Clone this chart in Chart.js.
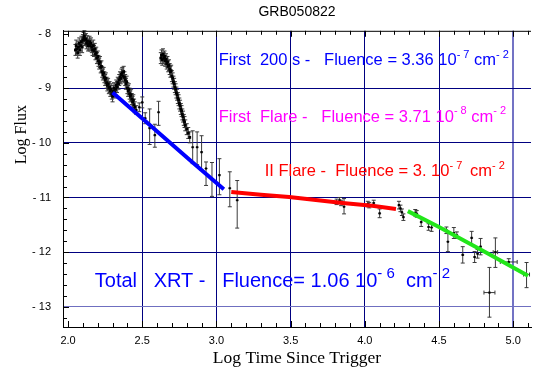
<!DOCTYPE html>
<html>
<head>
<meta charset="utf-8">
<script src="https://cdn.jsdelivr.net/npm/chart.js@4.4.1/dist/chart.umd.min.js"></script>
<style>
html, body { margin: 0; padding: 0; background: #fff; }
#wrap { width: 541px; height: 370px; }
</style>
</head>
<body>
<div id="wrap"><canvas id="grb"></canvas></div>
<script>
const X_TICKS = [2, 2.5, 3, 3.5, 4, 4.5, 5];
const Y_TICKS = [-8, -9, -10, -11, -12, -13];
const X_RANGE = [1.966, 5.12];
const Y_RANGE = [-13.37, -7.95];

// dense early light curve (first 200 s and the two flares)
const DENSE_T = [
    2.05, 2.055, 2.06, 2.065, 2.07, 2.075, 2.08, 2.085, 2.09, 2.095, 2.10, 2.105, 2.11, 2.115, 2.12, 2.125,
    2.13, 2.135, 2.14, 2.145, 2.15, 2.155, 2.16, 2.165, 2.17, 2.175, 2.18, 2.185, 2.19, 2.195, 2.20, 2.205,
    2.21, 2.215, 2.22, 2.225, 2.23, 2.235, 2.24, 2.245, 2.25, 2.255, 2.26, 2.265, 2.27, 2.275, 2.28, 2.285,
    2.29, 2.295, 2.30, 2.305, 2.31, 2.315, 2.32, 2.325, 2.33, 2.335, 2.34, 2.345, 2.35, 2.355, 2.36, 2.365,
    2.37, 2.375, 2.38, 2.385, 2.39, 2.395, 2.40, 2.405, 2.41, 2.415, 2.42, 2.425, 2.43, 2.435, 2.44, 2.445, 2.45,
    2.625, 2.63, 2.635, 2.64, 2.645, 2.65, 2.655, 2.66, 2.665, 2.67, 2.675, 2.68, 2.685, 2.69, 2.695, 2.70,
    2.705, 2.71, 2.715, 2.72, 2.725, 2.73, 2.735, 2.74, 2.745, 2.75, 2.755, 2.76, 2.765, 2.77, 2.775, 2.78,
    2.785, 2.79, 2.80, 2.81, 2.82
];
const DENSE_F = [
    -8.30, -8.22, -8.28, -8.35, -8.25, -8.18, -8.30, -8.22, -8.15, -8.25, -8.12, -8.08, -8.05, -8.12, -8.10, -8.18,
    -8.14, -8.22, -8.20, -8.15, -8.22, -8.18, -8.25, -8.30, -8.22, -8.32, -8.28, -8.38, -8.35, -8.45, -8.42, -8.50,
    -8.55, -8.52, -8.62, -8.60, -8.70, -8.75, -8.72, -8.80, -8.85, -8.82, -8.90, -8.95, -8.92, -9.00, -8.98, -9.05,
    -9.02, -9.10, -9.15, -9.05, -9.00, -9.08, -9.02, -8.95, -8.98, -8.90, -8.92, -8.85, -8.80, -8.82, -8.75, -8.72,
    -8.78, -8.70, -8.80, -8.85, -8.92, -8.88, -9.00, -9.05, -9.02, -9.10, -9.15, -9.12, -9.20, -9.25, -9.22, -9.30, -9.35,
    -8.45, -8.40, -8.48, -8.38, -8.45, -8.42, -8.50, -8.47, -8.55, -8.52, -8.60, -8.58, -8.65, -8.70, -8.68, -8.78,
    -8.82, -8.88, -8.92, -8.98, -9.02, -9.08, -9.12, -9.18, -9.22, -9.28, -9.32, -9.38, -9.42, -9.48, -9.52, -9.58,
    -9.62, -9.68, -9.75, -9.82, -9.90
];
const DENSE_ERR = 0.1;

// sparser points with error bars
const PTS_T = [2.46, 2.48, 2.50, 2.52, 2.55, 2.585, 2.61, 2.84, 2.87, 2.90, 2.93, 2.97, 3.02, 3.09, 3.14,
    3.81, 3.83, 3.84, 3.86, 4.02, 4.03, 4.06, 4.10, 4.23, 4.24, 4.25, 4.26, 4.34, 4.35, 4.38, 4.43, 4.45,
    4.55, 4.56, 4.60, 4.62, 4.66, 4.72, 4.74, 4.76, 4.78, 4.88, 4.84, 4.97, 5.09];
const PTS_F = [-9.40, -9.35, -9.26, -9.55, -9.73, -9.86, -9.44, -10.08, -10.08, -10.17, -10.47, -10.68, -10.59, -10.83, -11.05,
    -11.08, -11.05, -11.10, -11.17, -11.12, -11.14, -11.10, -11.29, -11.14, -11.20, -11.27, -11.36, -11.28, -11.30, -11.45, -11.54, -11.55,
    -11.60, -11.81, -11.65, -11.69, -12.05, -11.74, -12.09, -12.03, -11.90, -12.00, -12.74, -12.18, -12.41];
const ERR_UP = [0.08, 0.08, 0.10, 0.10, 0.35, 0.20, 0.20, 0.30, 0.28, 0.30, 0.12, 0.32, 0.30, 0.30, 0.36,
    0.05, 0.05, 0.05, 0.15, 0.05, 0.05, 0.05, 0.08, 0.07, 0.06, 0.06, 0.06, 0.06, 0.06, 0.08, 0.06, 0.07,
    0.06, 0.18, 0.10, 0.06, 0.15, 0.12, 0.10, 0.08, 0.15, 0.26, 0.46, 0.06, 0.22];
const ERR_DN = [0.08, 0.08, 0.10, 0.10, 0.30, 0.22, 0.24, 0.30, 0.32, 0.33, 0.31, 0.30, 0.36, 0.34, 0.51,
    0.05, 0.05, 0.05, 0.13, 0.05, 0.05, 0.05, 0.08, 0.07, 0.06, 0.06, 0.06, 0.06, 0.06, 0.08, 0.06, 0.07,
    0.06, 0.18, 0.10, 0.06, 0.15, 0.12, 0.10, 0.08, 0.15, 0.28, 0.45, 0.06, 0.24];
const X_ERR = [0.01, 0.01, 0.01, 0.01, 0.01, 0.01, 0.01, 0.01, 0.01, 0.01, 0.01, 0.01, 0.01, 0.01, 0.01,
    0.01, 0.01, 0.01, 0.01, 0.01, 0.01, 0.01, 0.01, 0.01, 0.01, 0.01, 0.01, 0.01, 0.01, 0.01, 0.01, 0.01,
    0.01, 0.01, 0.01, 0.01, 0.01, 0.01, 0.01, 0.01, 0.01, 0.015, 0.037, 0.057, 0.02];

// fitted segments
const BLUE_T = [2.30, 2.84, 3.05];
const BLUE_F = [-9.08, -10.36, -10.85];
const RED_T = [3.10, 3.30, 3.49, 3.85, 4.05, 4.21];
const RED_F = [-10.90, -10.95, -10.99, -11.10, -11.15, -11.21];
const GREEN_T = [4.29, 4.50, 4.82, 5.10];
const GREEN_F = [-11.25, -11.54, -12.01, -12.43];

const ANNOTATIONS = [
    { t: 3.015, f: -8.58, color: '#0000ff', size: 16.5, sup: 11, parts: [['First  200 s -   Fluence = 3.36 10', 0], ['- 7', 1], [' cm', 0], ['- 2', 1]] },
    { t: 3.015, f: -9.61, color: '#ff00ff', size: 16.5, sup: 11, parts: [['First  Flare -   Fluence = 3.71 10', 0], ['- 8', 1], [' cm', 0], ['- 2', 1]] },
    { t: 3.325, f: -10.61, color: '#ff0000', size: 16.5, sup: 11, parts: [['II Flare -  Fluence = 3. 10', 0], ['- 7 ', 1], [' cm', 0], ['- 2', 1]] },
    { t: 2.18, f: -12.63, color: '#0000ff', size: 20, sup: 15, parts: [['Total   XRT -   Fluence= 1.06 10', 0], ['- 6', 1], ['  cm', 0], ['- 2', 1]] }
];

const toXY = (ts, fs) => ts.map((t, i) => ({ x: t, y: fs[i] }));

const errorBars = {
    id: 'errorBars',
    beforeDatasetsDraw(chart) {
        const { ctx, scales: { x, y } } = chart;
        ctx.save();
        ctx.strokeStyle = '#3a3a3a';
        ctx.lineWidth = 1;
        ctx.beginPath();
        const bar = (t, f, up, dn, xe) => {
            const px = x.getPixelForValue(t);
            const y1 = y.getPixelForValue(f + up), y2 = y.getPixelForValue(f - dn);
            ctx.moveTo(px, y1); ctx.lineTo(px, y2);
            ctx.moveTo(px - 2, y1); ctx.lineTo(px + 2, y1);
            ctx.moveTo(px - 2, y2); ctx.lineTo(px + 2, y2);
            const py = y.getPixelForValue(f);
            const x1 = x.getPixelForValue(t - xe), x2 = x.getPixelForValue(t + xe);
            ctx.moveTo(x1, py); ctx.lineTo(x2, py);
            if (xe > 0.012) {
                ctx.moveTo(x1, py - 2); ctx.lineTo(x1, py + 2);
                ctx.moveTo(x2, py - 2); ctx.lineTo(x2, py + 2);
            }
        };
        DENSE_T.forEach((t, i) => bar(t, DENSE_F[i], DENSE_ERR, DENSE_ERR, 0.005));
        PTS_T.forEach((t, i) => bar(t, PTS_F[i], ERR_UP[i], ERR_DN[i], X_ERR[i]));
        ctx.stroke();
        ctx.restore();
    }
};

const frame = {
    id: 'frame',
    afterDraw(chart) {
        const { ctx, chartArea: a, scales: { x, y } } = chart;
        ctx.save();
        ctx.strokeStyle = '#000';
        ctx.lineWidth = 1;
        ctx.beginPath();
        ctx.moveTo(a.left, a.top + 0.5); ctx.lineTo(a.right, a.top + 0.5);
        for (let i = 20; i <= 51; i++) {
            const px = Math.round(x.getPixelForValue(i / 10)) + 0.5;
            const len = i % 5 === 0 ? 6 : 4;
            ctx.moveTo(px, a.bottom); ctx.lineTo(px, a.bottom - len);
            ctx.moveTo(px, a.top); ctx.lineTo(px, a.top + len);
        }
        for (let j = -66; j <= -40; j++) {
            const py = Math.round(y.getPixelForValue(j / 5)) + 0.5;
            const len = j % 5 === 0 ? 6 : 4;
            ctx.moveTo(a.left, py); ctx.lineTo(a.left + len, py);
        }
        ctx.stroke();

        // y axis title, sits above the middle as in the original
        ctx.fillStyle = '#000';
        ctx.font = '16px "Liberation Serif", serif';
        ctx.textAlign = 'center';
        ctx.textBaseline = 'middle';
        ctx.translate(22, y.getPixelForValue(-9.85));
        ctx.rotate(-Math.PI / 2);
        ctx.fillText('Log Flux', 0, 0);
        ctx.restore();

        // fluence labels
        ctx.save();
        ctx.textBaseline = 'alphabetic';
        ANNOTATIONS.forEach(an => {
            let px = x.getPixelForValue(an.t);
            const py = y.getPixelForValue(an.f);
            ctx.fillStyle = an.color;
            an.parts.forEach(([txt, sup]) => {
                ctx.font = (sup ? an.sup : an.size) + 'px "Liberation Sans", Arial, sans-serif';
                ctx.fillText(txt, px, sup ? py - an.size * 0.45 : py);
                px += ctx.measureText(txt).width;
            });
        });
        ctx.restore();
    }
};

const fitLine = (ts, fs, color) => ({
    type: 'line',
    data: toXY(ts, fs),
    borderColor: color,
    borderWidth: 4,
    pointRadius: 0,
    fill: false,
    tension: 0,
    order: 0
});

new Chart(document.getElementById('grb'), {
    type: 'scatter',
    data: {
        datasets: [
            fitLine(BLUE_T, BLUE_F, '#0000ff'),
            fitLine(RED_T, RED_F, '#ff0000'),
            fitLine(GREEN_T, GREEN_F, '#22e61a'),
            {
                data: toXY(DENSE_T, DENSE_F),
                pointStyle: 'rect',
                pointRadius: 2,
                backgroundColor: '#000',
                borderColor: '#000',
                borderWidth: 0,
                order: 1
            },
            {
                data: toXY(PTS_T, PTS_F),
                pointStyle: 'rect',
                pointRadius: 1.5,
                backgroundColor: '#000',
                borderColor: '#000',
                borderWidth: 0,
                order: 1
            }
        ]
    },
    options: {
        responsive: true,
        maintainAspectRatio: false,
        animation: false,
        layout: { padding: { left: 0, right: 10, top: 0, bottom: 0 } },
        plugins: {
            legend: { display: false },
            tooltip: { enabled: false },
            title: {
                display: true,
                text: 'GRB050822',
                fullSize: false,
                color: '#000',
                font: { family: '"Liberation Sans", Arial, sans-serif', size: 14, weight: 'normal' },
                padding: { top: 4, bottom: 10 }
            }
        },
        scales: {
            x: {
                type: 'linear',
                min: X_RANGE[0],
                max: X_RANGE[1],
                afterBuildTicks: s => { s.ticks = X_TICKS.map(v => ({ value: v })); },
                afterFit: s => { s.height = 43; },
                ticks: {
                    color: '#000',
                    padding: 7,
                    maxRotation: 0,
                    font: { family: '"Liberation Sans", Arial, sans-serif', size: 11 }
                },
                grid: {
                    drawTicks: false,
                    color: c => c.tick.value === 2 ? 'rgba(0,0,0,0)' : (c.tick.value === 5 ? '#7373c4' : '#000080'),
                    lineWidth: c => c.tick.value === 5 ? 2 : 1
                },
                border: { display: true, color: '#000', width: 1 },
                title: {
                    display: true,
                    text: 'Log Time Since Trigger',
                    color: '#000',
                    font: { family: '"Liberation Serif", serif', size: 17.5 },
                    padding: { top: 0, bottom: 1 }
                }
            },
            y: {
                type: 'linear',
                min: Y_RANGE[0],
                max: Y_RANGE[1],
                afterBuildTicks: s => { s.ticks = Y_TICKS.map(v => ({ value: v })); },
                afterFit: s => { s.width = 63; },
                ticks: {
                    color: '#000',
                    padding: 12,
                    font: { family: '"Liberation Sans", Arial, sans-serif', size: 11 },
                    callback: v => '- ' + Math.abs(v)
                },
                grid: {
                    drawTicks: false,
                    color: c => c.tick.value === -8 ? 'rgba(0,0,0,0)' : (c.tick.value === -13 ? '#6f6fc0' : '#000080'),
                    lineWidth: 1
                },
                border: { display: true, color: '#000', width: 1 }
            }
        }
    },
    plugins: [errorBars, frame]
});
</script>
</body>
</html>
